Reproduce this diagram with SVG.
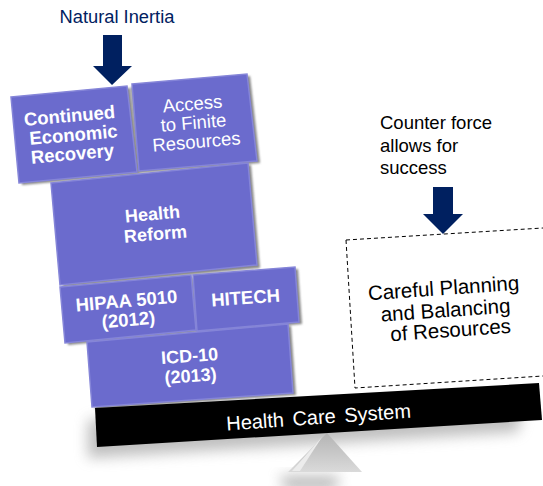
<svg xmlns="http://www.w3.org/2000/svg" width="543" height="486" viewBox="0 0 543 486">
<style>
text{font-family:"Liberation Sans",Arial,sans-serif;text-anchor:middle}
text.st{text-anchor:start}
.b{fill:#6b6bcd;stroke:#8585d8;stroke-width:1.5}
.w{fill:#fff}
.bd{font-weight:bold}
.k{fill:#000}
.n{fill:#002060}
</style>
<defs>
<filter id="s1" x="-20%" y="-20%" width="140%" height="140%"><feGaussianBlur stdDeviation="1.2"/></filter>
<filter id="s2" x="-20%" y="-60%" width="140%" height="220%"><feGaussianBlur stdDeviation="7"/></filter>
<linearGradient id="tri" x1="0" y1="0" x2="0" y2="1"><stop offset="0" stop-color="#b4b4b4"/><stop offset="1" stop-color="#dadada"/></linearGradient>
</defs>
<g id="shadows">
<path d="M88 420L525 396L518 432L88 458Z" fill="#8a8a8a" opacity=".55" filter="url(#s2)"/>
<path d="M280 476H340L335 490H285Z" fill="#8a8a8a" opacity=".6" filter="url(#s2)"/>
<g fill="#888" filter="url(#s1)">
<path d="M131 87L250 76L260 163L140 173Z"/>
<path d="M15 100L130 88L140 174L22 185Z"/>
<path d="M55 185L251 165L260 268L63 287Z"/>
<path d="M64 289L193 277L199 332L68 345Z"/>
<path d="M196 277L298 269L302 324L200 333Z"/>
<path d="M90 344L291 326L296 395L95 409Z"/>
</g>
</g>
<g id="fulcrum"><path d="M327 433L362 472H288Z" fill="url(#tri)"/><path d="M322 437L292 471H300Z" fill="#ececec"/></g>
<g id="health-reform"><path class="b" d="M51 183L248 163L257 265L60 285Z"/><text class="w bd" font-size="18" transform="translate(153 220) rotate(-5)">Health</text><text class="w bd" font-size="18" transform="translate(156 240) rotate(-5)">Reform</text></g>
<g id="continued"><path class="b" d="M11 97L127 86L137 172L19 183Z"/><g class="w bd" font-size="18.500"><text transform="translate(70 122) rotate(-5)">Continued</text><text transform="translate(74 141) rotate(-5)">Economic</text><text transform="translate(73 160) rotate(-5)">Recovery</text></g></g>
<g id="access"><path class="b" d="M132 84L247 74L257 161L139 171Z"/><g class="w" font-size="18.500"><text transform="translate(193 110) rotate(-5)">Access</text><text transform="translate(194 129) rotate(-5)">to Finite</text><text transform="translate(197 148) rotate(-5)">Resources</text></g></g>
<g id="icd"><path class="b" d="M87 342L288 324L293 393L92 407Z"/><g class="w bd" font-size="18"><text transform="translate(190 362) rotate(-4)">ICD-10</text><text transform="translate(191 382) rotate(-4)">(2013)</text></g></g>
<g id="hipaa"><path class="b" d="M60 287L191 275L196 330L65 343Z"/><g class="w bd" font-size="18.500"><text transform="translate(127 307) rotate(-5)">HIPAA 5010</text><text transform="translate(129 326) rotate(-5)">(2012)</text></g></g>
<g id="hitech"><path class="b" d="M193 275L295 267L299 322L197 331Z"/><text class="w bd" font-size="18.500" transform="translate(246 304) rotate(-4)">HITECH</text></g>
<g id="beam"><path d="M95 408L539 383L542 420L97 447Z" fill="#000"/><text class="w" font-size="20" word-spacing="3" transform="translate(319 424) rotate(-4)">Health Care System</text></g>
<g id="planning"><path d="M346 240L543 228M346 240L355 388L543 376" fill="none" stroke="#000" stroke-width="1" stroke-dasharray="4 3"/><g class="k" font-size="20.500"><text transform="translate(444 295) rotate(-4)">Careful Planning</text><text transform="translate(446 317) rotate(-4)">and Balancing</text><text transform="translate(451 337) rotate(-4)">of Resources</text></g></g>
<g id="connectors"><path class="n" d="M103 35H122V66H132L112 85L93 66H103Z"/><path class="n" d="M433 187H453V214H463L443 234L423 214H433Z"/></g>
<g id="labels"><text class="n" font-size="18.300" x="117" y="23">Natural Inertia</text><g class="k" font-size="18.500"><text class="st" x="380" y="129">Counter force</text><text class="st" x="380" y="152">allows for</text><text class="st" x="380" y="174">success</text></g></g>
</svg>
